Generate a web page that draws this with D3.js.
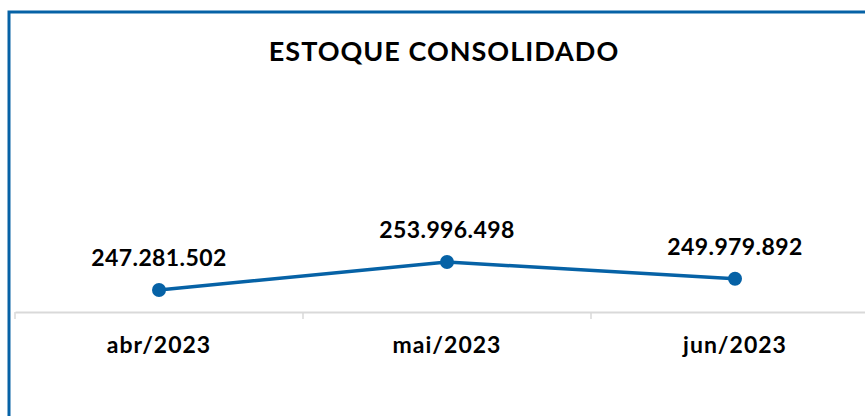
<!DOCTYPE html>
<html><head><meta charset="utf-8">
<script src="https://cdn.jsdelivr.net/npm/d3@7"></script>
<style>body{margin:0;background:#fff}svg{display:block}</style>
</head><body>
<script>
const categories = ["abr/2023","mai/2023","jun/2023"];
const values = [247281502, 253996498, 249979892];
const title = "ESTOQUE CONSOLIDADO";

const W = 865, H = 416;
const font = "'Lato', 'Open Sans', sans-serif";
const blue = "#0662a6";
const svg = d3.select("body").append("svg").attr("width", W).attr("height", H);
svg.append("rect").attr("width", W).attr("height", H).attr("fill", "#fff");

// frame (left + top)
svg.append("path").attr("d", `M9,${H} L9,12 L${W},12`).attr("fill","none").attr("stroke", blue).attr("stroke-width", 3);

svg.append("text").attr("x", 444).attr("y", 61).attr("text-anchor","middle")
  .attr("font-family", font).attr("font-weight", 700).attr("font-size", 27)
  .attr("letter-spacing", 1).attr("fill","#000").text(title);

const x = d3.scaleBand().domain(categories).range([15, 879]);
const y = d3.scaleLinear().domain([242000000, 260000000]).range([312, 237]);

const axisY = 312;
const ax = svg.append("g").attr("transform", `translate(0,${axisY})`)
  .call(d3.axisBottom(x).tickSize(0).tickFormat(""));
ax.select(".domain").attr("stroke", "#d9d9d9").attr("stroke-width", 2);
const edges = [15, x(categories[1]), x(categories[2])];
svg.selectAll(".tk").data(edges).enter().append("line")
  .attr("x1", d => d).attr("x2", d => d).attr("y1", axisY).attr("y2", axisY + 7)
  .attr("stroke", "#d9d9d9").attr("stroke-width", 1.5);

svg.selectAll(".cat").data(categories).enter().append("text")
  .attr("x", d => x(d) + x.bandwidth()/2).attr("y", 353).attr("text-anchor","middle")
  .attr("font-family", font).attr("font-weight", 700).attr("font-size", 23)
  .attr("letter-spacing", 1).attr("fill","#000").text(d => d);

const pts = categories.map((c,i) => ({c, v: values[i]}));
const line = d3.line().x(d => x(d.c) + x.bandwidth()/2).y(d => y(d.v));
svg.append("path").datum(pts).attr("d", line).attr("fill","none").attr("stroke", blue).attr("stroke-width", 3.5);
svg.selectAll(".pt").data(pts).enter().append("circle")
  .attr("cx", d => x(d.c) + x.bandwidth()/2).attr("cy", d => y(d.v)).attr("r", 7).attr("fill", blue);

const fmt = v => d3.format(",")(v).replace(/,/g, ".");
svg.selectAll(".lbl").data(pts).enter().append("text")
  .attr("x", d => x(d.c) + x.bandwidth()/2).attr("y", d => y(d.v) - 24).attr("text-anchor","middle")
  .attr("font-family", font).attr("font-weight", 700).attr("font-size", 23)
  .attr("letter-spacing", 0.4).attr("fill","#000").text(d => fmt(d.v));
</script>
</body></html>
